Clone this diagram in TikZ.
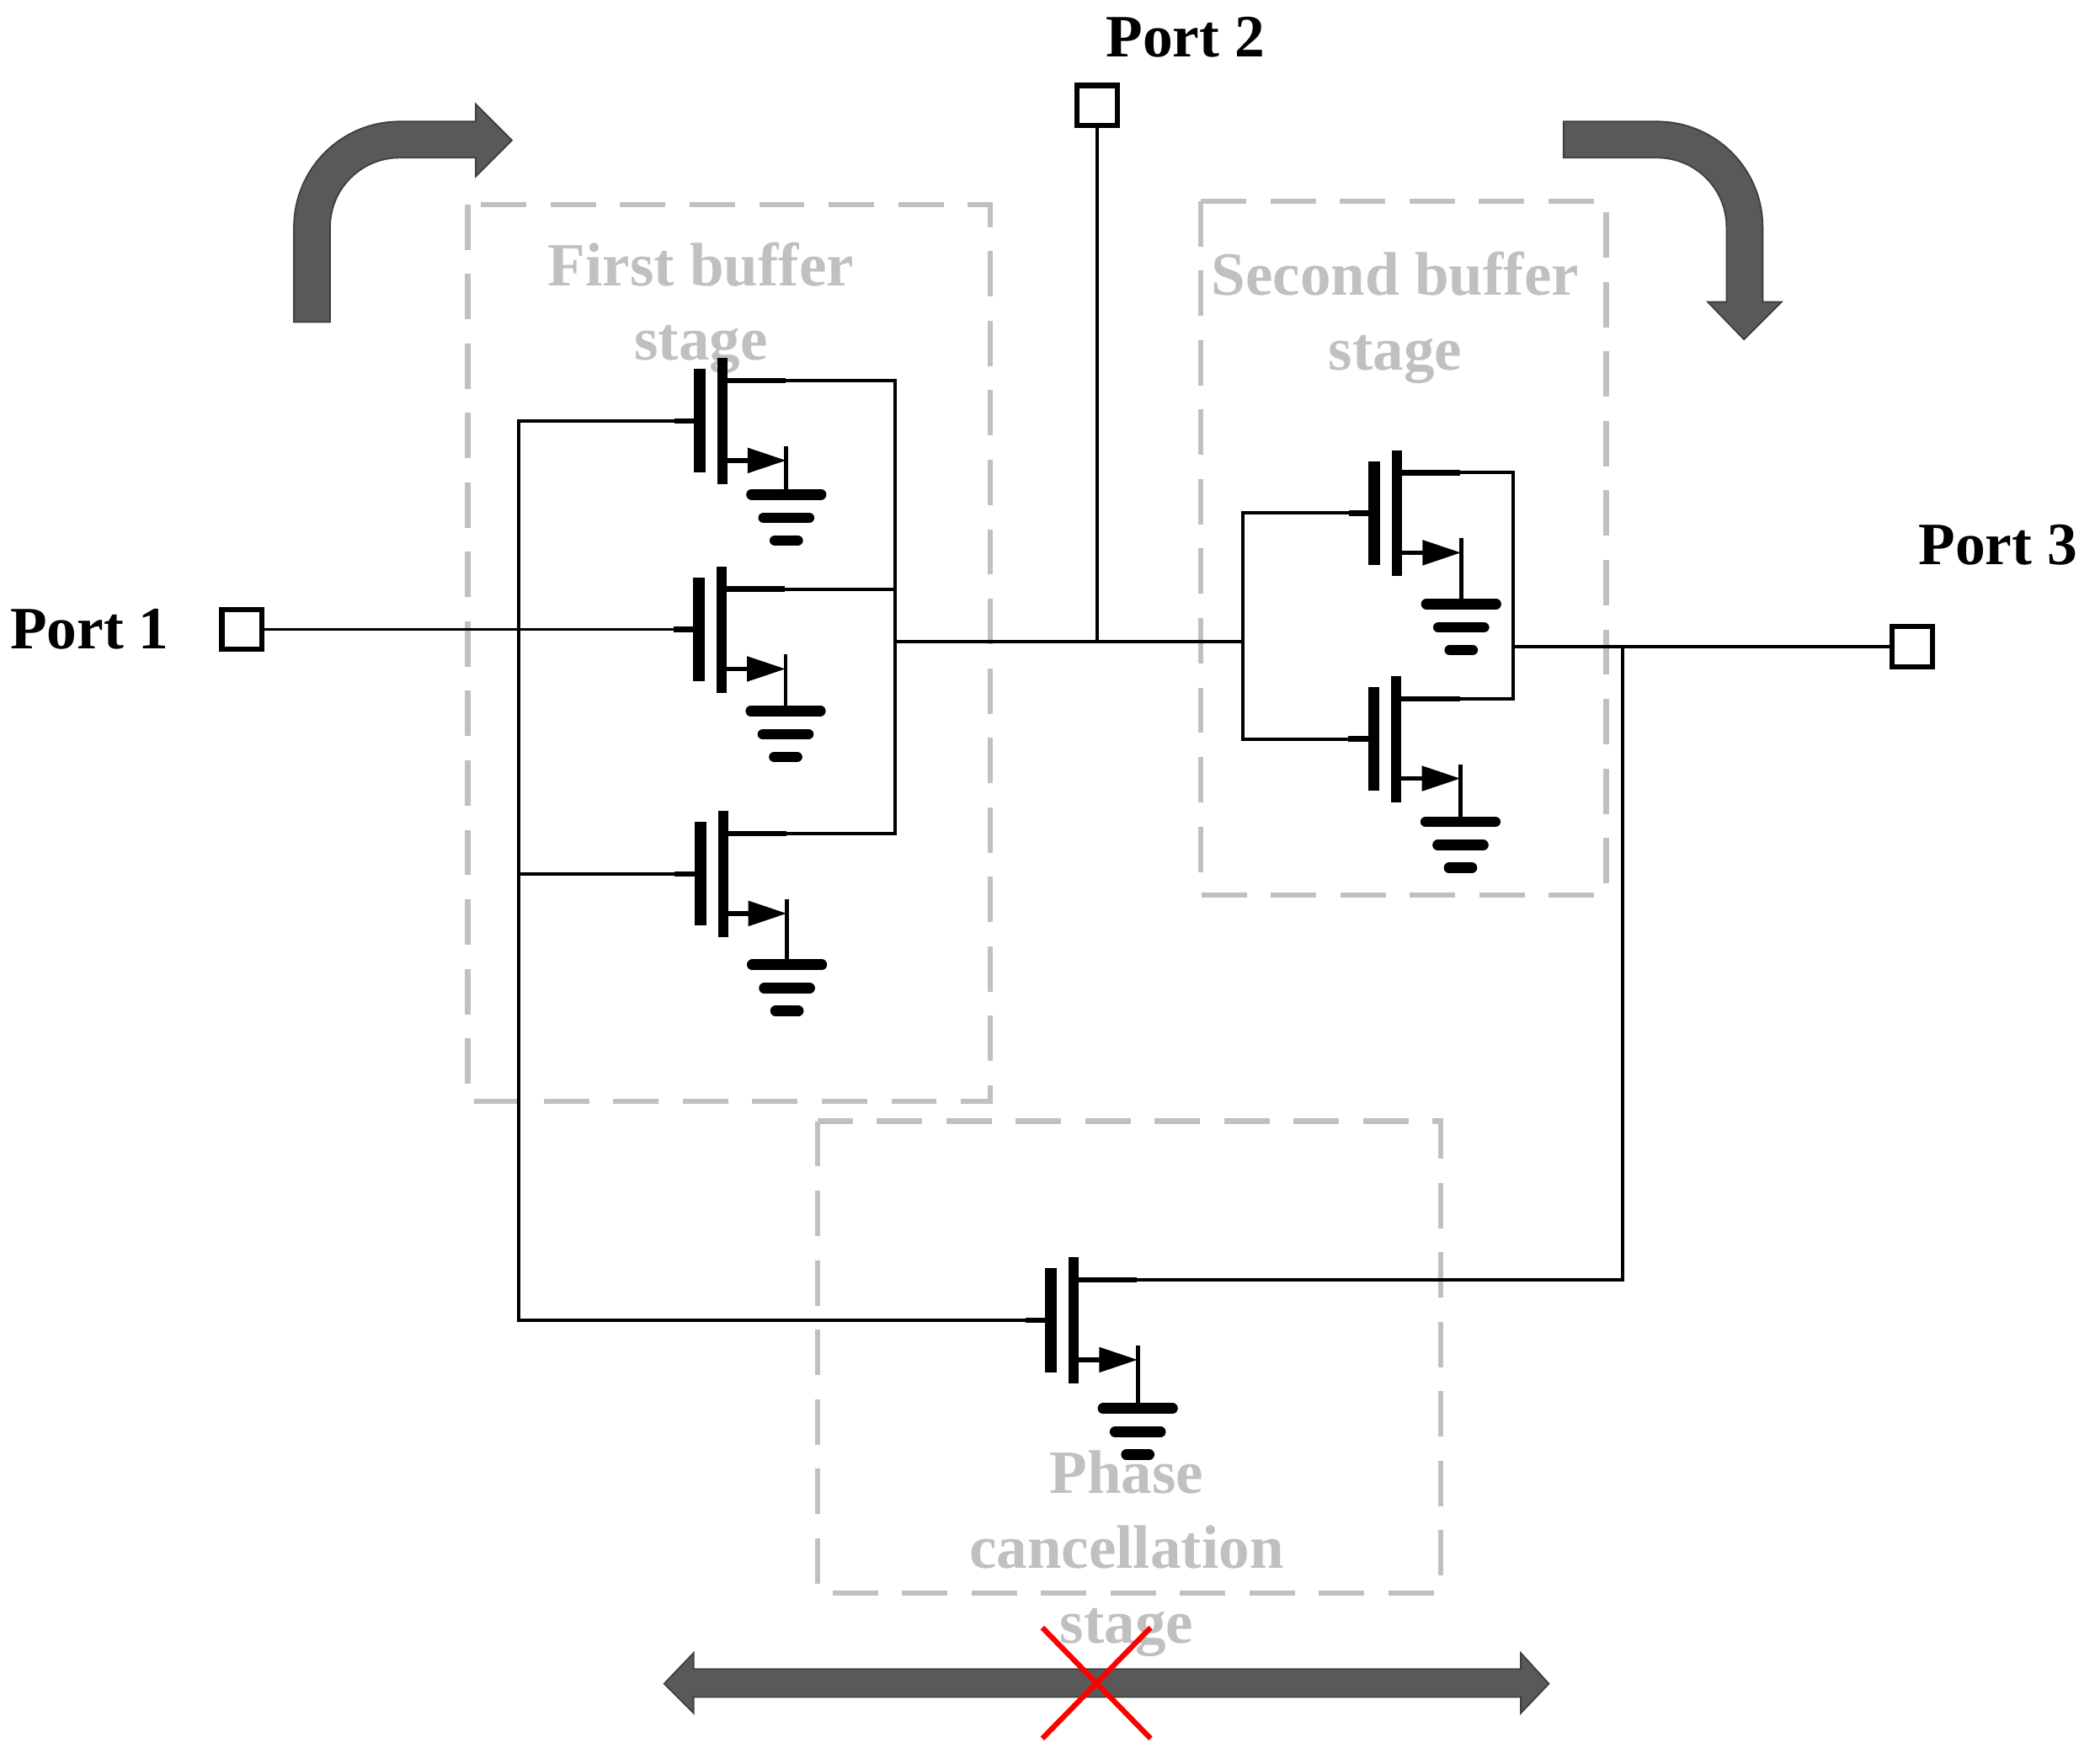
\documentclass[tikz,border=0pt]{standalone}
\usepackage{fontspec}
\setmainfont{Liberation Serif}
\usetikzlibrary{calc}

\definecolor{stagegrey}{HTML}{C0C0C0}
\definecolor{flowfill}{HTML}{595959}
\definecolor{flowedge}{HTML}{404040}

\tikzset{
  pics/nmos/.style={code={
    \fill [black] (-0.044,-0.388) rectangle (0.044,0.388);
    \fill [black] (0.132,-0.473) rectangle (0.208,0.47);
    \draw [line width=0.04cm] (-0.19,0) -- (-0.044,0);
    \draw [line width=0.04cm] (0.208,0.302) -- (0.643,0.302);
    \draw [line width=0.035cm] (0.208,-0.296) -- (0.40,-0.296);
    \fill [black] (0.36,-0.20) -- (0.645,-0.296) -- (0.36,-0.392) -- cycle;
    \draw [line width=0.03cm] (0.649,-0.189) -- (0.649,-#1);
    \draw [line width=0.08cm,line cap=round] (0.389,-#1) -- (0.909,-#1);
    \draw [line width=0.08cm,line cap=round] (0.479,-#1-0.175) -- (0.819,-#1-0.175);
    \draw [line width=0.08cm,line cap=round] (0.564,-#1-0.345) -- (0.734,-#1-0.345);
    \coordinate (-g) at (-0.19,0);
    \coordinate (-d) at (0.643,0.302);
  }}
}

\begin{document}
\begin{tikzpicture}
\tikzstyle{wire}=[line width=0.025cm]
\tikzstyle{port}=[draw,line width=0.04cm,inner sep=0pt,minimum size=0.3cm]
\tikzstyle{portlabel}=[font=\fontsize{12.8}{15}\selectfont\bfseries,inner sep=0pt]
\tikzstyle{stage}=[draw=stagegrey,line width=0.04cm,dash pattern=on 0.34cm off 0.18cm]
\tikzstyle{stagelabel}=[text=stagegrey,align=center,inner sep=0pt,font=\fontsize{13.1}{15.93}\selectfont\bfseries]
\tikzstyle{flow}=[fill=flowfill,draw=flowedge,line width=0.012cm]

\useasboundingbox (0,0) rectangle (15.677,-13.2);

% stage boxes and their titles
\draw [stage] (3.50,-1.53) rectangle (7.41,-8.24);
\draw [stage] (8.985,-1.505) rectangle (12.02,-6.70);
\draw [stage] (6.12,-8.39) rectangle (10.78,-11.92);
\node (first) [stagelabel] at (5.245,-2.305) {First buffer\\stage};
\node (second) [stagelabel] at (10.44,-2.38) {Second buffer\\stage};
\node (phase) [stagelabel] at (8.43,-11.625) {Phase\\cancellation\\stage};

% transistors
\pic (T1) at (5.235,-3.15) {nmos=0.55};
\pic (T2) at (5.23,-4.71) {nmos=0.61};
\pic (T3) at (5.24,-6.54) {nmos=0.68};
\pic (T4) at (10.285,-3.84) {nmos=0.68};
\pic (T5) at (10.28,-5.53) {nmos=0.62};
\pic (T6) at (7.865,-9.88) {nmos=0.66};

% ports
\node (P1) [port] at (1.81,-4.71) {};
\node (P2) [port] at (8.21,-0.79) {};
\node (P3) [port] at (14.31,-4.84) {};
\node (L1) [portlabel] at (0.67,-4.71) {Port 1};
\node (L2) [portlabel] at (8.87,-0.28) {Port 2};
\node (L3) [portlabel] at (14.95,-4.08) {Port 3};

% wiring
\coordinate (Bus) at (3.88,0);
\coordinate (Out1) at (6.70,-4.80);
\coordinate (In2) at (9.30,-4.80);
\coordinate (Out2) at (11.32,-4.84);
\coordinate (Fb) at (12.14,-4.84);

\draw [wire] (P1) -- (T2-g);
\draw [wire] (T1-g) -- (T1-g -| Bus) -- (T6-g -| Bus) -- (T6-g);
\draw [wire] (T3-g) -- (T3-g -| Bus);
\draw [wire] (T1-d) -- (T1-d -| Out1) -- (T3-d -| Out1) -- (T3-d);
\draw [wire] (T2-d) -- (T2-d -| Out1);
\draw [wire] (Out1) -- (In2);
\draw [wire] (P2) -- (P2 |- Out1);
\draw [wire] (T4-g) -- (T4-g -| In2) -- (T5-g -| In2) -- (T5-g);
\draw [wire] (T4-d) -- (T4-d -| Out2) -- (T5-d -| Out2) -- (T5-d);
\draw [wire] (Out2) -- (P3);
\draw [wire] (Fb) |- (T6-d);

% signal flow arrows
\draw [flow] (2.20,-2.41) -- (2.20,-1.70) arc[start angle=180,end angle=90,radius=0.79] -- (3.56,-0.91) -- (3.56,-0.78) -- (3.83,-1.05) -- (3.56,-1.32) -- (3.56,-1.18) -- (2.99,-1.18) arc[start angle=90,end angle=180,radius=0.52] -- (2.47,-2.41) -- cycle;
\draw [flow] (11.70,-0.91) -- (12.40,-0.91) arc[start angle=90,end angle=0,radius=0.79] -- (13.19,-2.26) -- (13.33,-2.26) -- (13.05,-2.54) -- (12.78,-2.26) -- (12.92,-2.26) -- (12.92,-1.70) arc[start angle=0,end angle=90,radius=0.52] -- (11.70,-1.18) -- cycle;
\draw [flow] (4.97,-12.60) -- (5.19,-12.37) -- (5.19,-12.49) -- (11.38,-12.49) -- (11.38,-12.37) -- (11.59,-12.60) -- (11.38,-12.82) -- (11.38,-12.70) -- (5.19,-12.70) -- (5.19,-12.82) -- cycle;

% blocked path
\coordinate (X1) at (7.80,-12.18);
\coordinate (X2) at (8.61,-13.01);
\coordinate (X3) at (8.61,-12.18);
\coordinate (X4) at (7.80,-13.01);
\draw [red,line width=0.04cm] (X1) -- (X2);
\draw [red,line width=0.04cm] (X3) -- (X4);
\end{tikzpicture}
\end{document}
